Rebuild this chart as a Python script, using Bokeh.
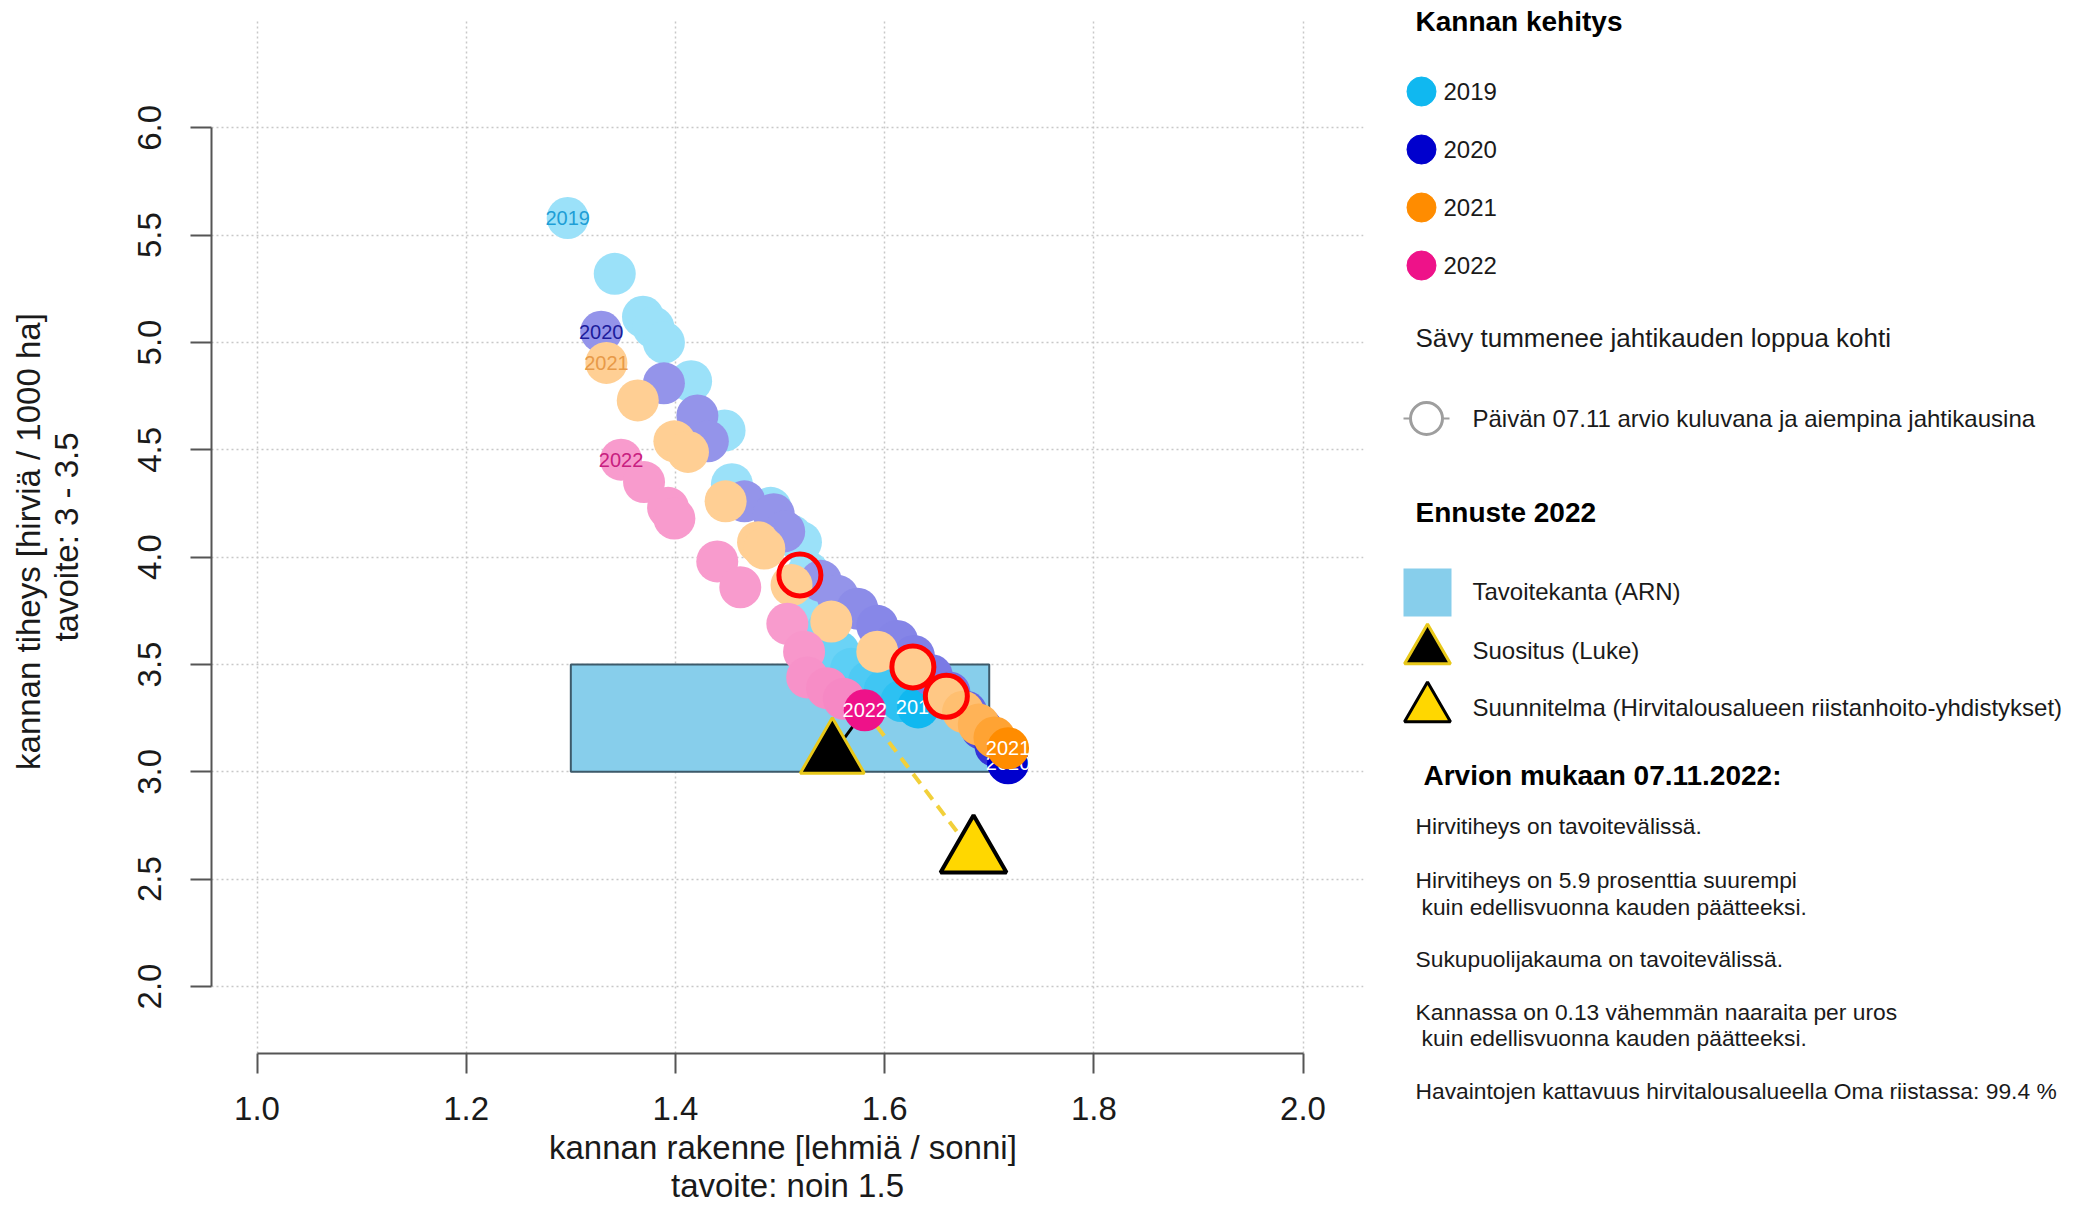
from bokeh.plotting import figure
from bokeh.models import Range1d, FixedTicker, ColumnDataSource
from bokeh.layouts import row
from bokeh.embed import file_html
from bokeh.resources import INLINE
from bokeh.core.properties import value

# ------------------------------------------------------------------ data
years = ["2019", "2020", "2021", "2022"]
year_colors = ["#10B8F0", "#0000CD", "#FF8C00", "#EE1289"]
first_label_colors = ["#1E9ED6", "#1C1C9C", "#E89A48", "#C82080"]

# kannan rakenne (lehmiä / sonni) and kannan tiheys (hirviä / 1000 ha), season progress shade
x_2019 = [1.297, 1.342, 1.369, 1.379, 1.389, 1.415, 1.447, 1.454, 1.491, 1.511, 1.520,
          1.527, 1.530, 1.545, 1.556, 1.568, 1.585, 1.600, 1.616, 1.632]
y_2019 = [5.58, 5.32, 5.12, 5.07, 5.00, 4.82, 4.59, 4.34, 4.23, 4.10, 4.07,
          3.93, 3.79, 3.66, 3.56, 3.48, 3.42, 3.38, 3.33, 3.30]
shade_2019 = [0.42, 0.42, 0.42, 0.42, 0.42, 0.42, 0.42, 0.42, 0.42, 0.42, 0.42,
              0.42, 0.45, 0.55, 0.62, 0.68, 0.74, 0.80, 0.88, 1.0]

x_2020 = [1.329, 1.389, 1.421, 1.431, 1.466, 1.494, 1.504, 1.539, 1.555, 1.574, 1.593,
          1.612, 1.628, 1.645, 1.662, 1.678, 1.693, 1.706, 1.718]
y_2020 = [5.05, 4.81, 4.66, 4.54, 4.26, 4.20, 4.12, 3.89, 3.82, 3.76, 3.68,
          3.61, 3.54, 3.45, 3.37, 3.28, 3.20, 3.12, 3.04]
shade_2020 = [0.42, 0.42, 0.42, 0.42, 0.42, 0.42, 0.42, 0.42, 0.42, 0.45, 0.47,
              0.48, 0.50, 0.52, 0.55, 0.60, 0.70, 0.80, 1.0]

x_2021 = [1.334, 1.364, 1.399, 1.412, 1.448, 1.479, 1.485, 1.511, 1.549, 1.593, 1.627,
          1.659, 1.675, 1.690, 1.705, 1.718]
y_2021 = [4.905, 4.73, 4.54, 4.49, 4.26, 4.07, 4.04, 3.87, 3.70, 3.56, 3.49,
          3.35, 3.28, 3.22, 3.16, 3.11]
shade_2021 = [0.42, 0.42, 0.42, 0.42, 0.42, 0.42, 0.42, 0.42, 0.42, 0.42, 0.44,
              0.48, 0.56, 0.66, 0.80, 1.0]

x_2022 = [1.348, 1.370, 1.393, 1.399, 1.440, 1.462, 1.507, 1.523, 1.526, 1.545, 1.561, 1.581]
y_2022 = [4.454, 4.35, 4.23, 4.18, 3.98, 3.86, 3.69, 3.56, 3.44, 3.39, 3.34, 3.287]
shade_2022 = [0.42, 0.42, 0.42, 0.42, 0.42, 0.42, 0.42, 0.44, 0.46, 0.48, 0.50, 1.0]

# estimate on 07.11 in earlier seasons
est_x = [1.519, 1.627, 1.659]
est_y = [3.917, 3.489, 3.352]

# forecast 2022
target_x = [1.3, 1.7]          # Tavoitekanta (ARN)
target_y = [3.0, 3.5]
luke_x = [1.55]                # Suositus (Luke)
luke_y = [3.08]
plan_x = [1.685]               # Suunnitelma
plan_y = [2.62]

x_ticks = [1.0, 1.2, 1.4, 1.6, 1.8, 2.0]
x_tick_labels = ["1.0", "1.2", "1.4", "1.6", "1.8", "2.0"]
y_ticks = [2.0, 2.5, 3.0, 3.5, 4.0, 4.5, 5.0, 5.5, 6.0]
y_tick_labels = ["2.0", "2.5", "3.0", "3.5", "4.0", "4.5", "5.0", "5.5", "6.0"]

x_title = "kannan rakenne  [lehmiä / sonni]\ntavoite: noin 1.5"
y_title = "kannan tiheys  [hirviä / 1000 ha]\ntavoite: 3 - 3.5"

legend_title_1 = "Kannan kehitys"
legend_note = "Sävy tummenee jahtikauden loppua kohti"
legend_est = "Päivän 07.11 arvio kuluvana ja aiempina jahtikausina"
legend_title_2 = "Ennuste 2022"
legend_forecast = ["Tavoitekanta (ARN)", "Suositus (Luke)",
                   "Suunnitelma (Hirvitalousalueen riistanhoito-yhdistykset)"]
summary_title = "Arvion mukaan 07.11.2022:"
summary_lines = ["Hirvitiheys on tavoitevälissä.",
                 "Hirvitiheys on 5.9  prosenttia suurempi",
                 "kuin edellisvuonna kauden päätteeksi.",
                 "Sukupuolijakauma on tavoitevälissä.",
                 "Kannassa on 0.13  vähemmän naaraita per uros",
                 "kuin edellisvuonna kauden päätteeksi.",
                 "Havaintojen kattavuus hirvitalousalueella Oma riistassa:  99.4 %"]

series_x = [x_2019, x_2020, x_2021, x_2022]
series_y = [y_2019, y_2020, y_2021, y_2022]
series_shade = [shade_2019, shade_2020, shade_2021, shade_2022]

FONT = "Liberation Sans"
TXT = "#1a1a1a"
PAGE_W, PAGE_H = 2072, 1210
MAIN_W = 1383


def shade(hex_color, f):
    rgb = [int(hex_color[i:i + 2], 16) for i in (1, 3, 5)]
    return "#%02x%02x%02x" % tuple(int(round(255 - f * (255 - c))) for c in rgb)


# ------------------------------------------------------------------ main plot
p = figure(width=MAIN_W, height=PAGE_H,
           x_range=Range1d(0.9565, 2.0578), y_range=Range1d(1.688, 6.5),
           output_backend="svg", toolbar_location=None, frame_align=False,
           min_border_left=211, min_border_right=20, min_border_top=20,
           min_border_bottom=PAGE_H - 20 - 1033)
p.outline_line_color = None
p.background_fill_color = "white"
p.border_fill_color = "white"

xa = p.xaxis[0]
xa.ticker = FixedTicker(ticks=x_ticks)
xa.major_label_overrides = dict(zip(x_ticks, x_tick_labels))
xa.bounds = (x_ticks[0], x_ticks[-1])
ya = p.yaxis[0]
ya.ticker = FixedTicker(ticks=y_ticks)
ya.major_label_overrides = dict(zip(y_ticks, y_tick_labels))
ya.bounds = (y_ticks[0], y_ticks[-1])
ya.major_label_orientation = "vertical"

for ax in (xa, ya):
    ax.axis_line_color = "#555555"
    ax.axis_line_width = 2
    ax.major_tick_line_color = "#555555"
    ax.major_tick_line_width = 2
    ax.major_tick_in = 0
    ax.minor_tick_line_color = None
    ax.major_label_text_font = FONT
    ax.major_label_text_font_size = "33px"
    ax.major_label_text_color = TXT
    ax.axis_label_text_font = FONT
    ax.axis_label_text_font_size = "33px"
    ax.axis_label_text_font_style = "normal"
    ax.axis_label_text_color = TXT

xa.major_tick_out = 20
xa.major_label_standoff = 23
xa.axis_label = x_title
xa.axis_label_standoff = 6
xa.axis_label_text_line_height = 1.05
ya.major_tick_out = 21
ya.major_label_standoff = 29
ya.axis_label = y_title
ya.axis_label_standoff = 51
ya.axis_label_text_line_height = 1.02

for g in (p.xgrid[0], p.ygrid[0]):
    g.grid_line_color = "#c8c8c8"
    g.grid_line_width = 1.5
    g.grid_line_dash = "2 3"

# target box
p.quad(left=[target_x[0]], right=[target_x[1]], bottom=[target_y[0]], top=[target_y[1]],
       fill_color="#87CEEB", line_color="#3d5a6a", line_width=2)

# connection lines from current estimate to forecasts
p.line([x_2022[-1], luke_x[0]], [y_2022[-1], luke_y[0]], line_color="black", line_width=3)
p.line([x_2022[-1], plan_x[0]], [y_2022[-1], plan_y[0]], line_color="#F2D03A",
       line_width=4, line_dash="12 8")

# seasons
for yr, base, lab_col, xs, ys, sh in zip(years, year_colors, first_label_colors,
                                          series_x, series_y, series_shade):
    src = ColumnDataSource(dict(x=xs, y=ys, c=[shade(base, f) for f in sh]))
    p.scatter("x", "y", source=src, marker="circle", size=42, fill_color="c", line_color=None)
    p.text(x=[xs[0]], y=[ys[0]], text=[yr], text_align="center", text_baseline="middle",
           text_font=value(FONT), text_font_size="20px", text_color=lab_col)
    p.text(x=[xs[-1]], y=[ys[-1]], text=[yr], text_align="center", text_baseline="middle",
           text_font=value(FONT), text_font_size="20px", text_color="white")

# forecasts
p.scatter(luke_x, luke_y, marker="triangle", size=64, fill_color="black",
          line_color="#E8C81A", line_width=3)
p.scatter(plan_x, plan_y, marker="triangle", size=66, fill_color="#FFD700",
          line_color="black", line_width=4)

# 07.11 estimates
p.scatter(est_x, est_y, marker="circle", size=42, fill_color=None,
          line_color="#FF0000", line_width=5)

# ------------------------------------------------------------------ legend panel
LW = PAGE_W - MAIN_W
lg = figure(width=LW, height=PAGE_H, x_range=Range1d(MAIN_W, PAGE_W), y_range=Range1d(PAGE_H, 0),
            output_backend="svg", toolbar_location=None, frame_align=False,
            x_axis_location=None, y_axis_location=None, min_border=0,
            min_border_left=0, min_border_right=0, min_border_top=0, min_border_bottom=0)
lg.grid.visible = False
lg.outline_line_color = None
lg.background_fill_color = "white"
lg.border_fill_color = "white"

bold = dict(text_font=value(FONT), text_font_style="bold", text_font_size="28px",
            text_color="black", text_baseline="middle", text_align="left")
norm = dict(text_font=value(FONT), text_font_size="24px", text_color=TXT,
            text_baseline="middle", text_align="left")

lg.text(x=[1415], y=[21], text=[legend_title_1], **bold)
yr_rows = [91 + 58 * i for i in range(len(years))]
lg.scatter([1421] * len(years), yr_rows, marker="circle", size=29, fill_color=year_colors,
           line_color=year_colors, line_width=1)
lg.text(x=[1443] * len(years), y=yr_rows, text=years, **norm)
lg.text(x=[1415], y=[337], text=[legend_note], **dict(norm, text_font_size="26px"))

lg.segment(x0=[1403], y0=[418], x1=[1449], y1=[418], line_color="#9e9e9e", line_width=2)
lg.scatter([1426], [418], marker="circle", size=32, fill_color="white",
           line_color="#9e9e9e", line_width=3)
lg.text(x=[1472], y=[418], text=[legend_est], **norm)

lg.text(x=[1415], y=[512], text=[legend_title_2], **bold)
lg.scatter([1427], [592], marker="square", size=48, fill_color="#87CEEB", line_color=None)
lg.scatter([1427], [650], marker="triangle", size=46, fill_color="black",
           line_color="#E8C81A", line_width=3)
lg.scatter([1427], [708], marker="triangle", size=46, fill_color="#FFD700",
           line_color="black", line_width=3)
lg.text(x=[1472, 1472, 1472], y=[591, 650, 707], text=legend_forecast, **norm)

lg.text(x=[1423], y=[775], text=[summary_title], **bold)
sum_y = [825, 879, 906, 958, 1011, 1037, 1090]
sum_x = [1415, 1415, 1421, 1415, 1415, 1421, 1415]
lg.text(x=sum_x, y=sum_y, text=summary_lines, **dict(norm, text_font_size="22.8px"))

layout = row(p, lg)
open("out.html", "w").write(file_html(layout, INLINE))
